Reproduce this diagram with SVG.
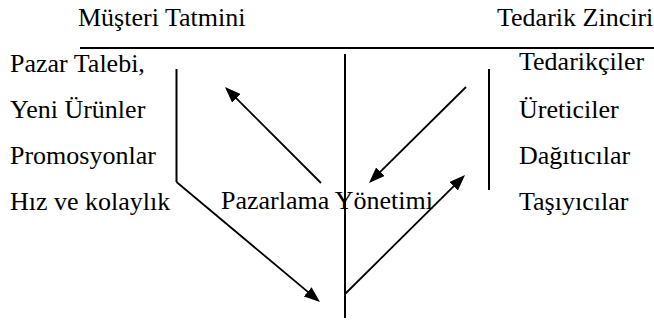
<svg xmlns="http://www.w3.org/2000/svg" width="654" height="322" viewBox="0 0 654 322">
<style>
text{font-family:'Liberation Serif','Times New Roman',Times,serif;font-size:26px;fill:#000}
.ln{stroke:#000;stroke-width:2;fill:none}
.ar{stroke:#000;stroke-width:1.8;fill:none;marker-end:url(#ah)}
</style>
<defs>
<marker id="ah" viewBox="0 0 16 12" refX="13" refY="6" markerWidth="16" markerHeight="12" markerUnits="userSpaceOnUse" orient="auto">
<path d="M0,0 L16,6 L0,12 z" fill="#000"/>
</marker>
</defs>
<rect width="654" height="322" fill="#fff"/>
<g id="musteri-tatmini"><text x="78" y="26">Müşteri Tatmini</text></g>
<g id="tedarik-zinciri"><text x="497" y="26">Tedarik Zinciri</text></g>
<g id="sol-liste">
<text x="10" y="72">Pazar Talebi,</text>
<text x="10" y="118">Yeni Ürünler</text>
<text x="10" y="164">Promosyonlar</text>
<text x="10" y="210">Hız ve kolaylık</text>
</g>
<g id="sag-liste">
<text x="519" y="70">Tedarikçiler</text>
<text x="519" y="118">Üreticiler</text>
<text x="519" y="164">Dağıtıcılar</text>
<text x="519" y="210">Taşıyıcılar</text>
</g>
<g id="pazarlama-yonetimi"><text x="221" y="209">Pazarlama Yönetimi</text></g>
<g id="connectors">
<line class="ln" x1="80" y1="48" x2="654" y2="48"/>
<line class="ln" x1="345" y1="54" x2="345" y2="318"/>
<line class="ln" x1="176.5" y1="69" x2="176.5" y2="182"/>
<line class="ln" x1="489" y1="69" x2="489" y2="190"/>
<line class="ar" x1="321" y1="183" x2="227.1" y2="89.1"/>
<line class="ar" x1="176.5" y1="182" x2="317.7" y2="300.1"/>
<line class="ar" x1="466" y1="87" x2="371.1" y2="180.9"/>
<line class="ar" x1="345" y1="294" x2="462.9" y2="177.1"/>
</g>
</svg>
